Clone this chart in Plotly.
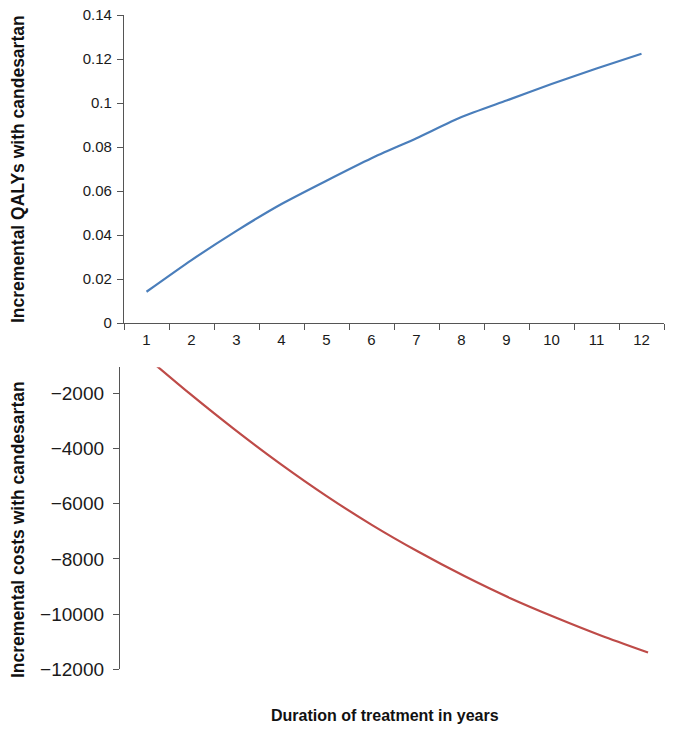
import plotly.graph_objects as go

# ---- data ----
years = ["1", "2", "3", "4", "5", "6", "7", "8", "9", "10", "11", "12"]
qalys = [0.0142, 0.0286, 0.0419, 0.0541, 0.0647, 0.0749, 0.0840, 0.0936, 0.1011, 0.1086, 0.1157, 0.1224]
costs = [-580, -1980, -3310, -4560, -5720, -6780, -7740, -8620, -9420, -10130, -10790, -11390]

qaly_ticks = [0, 0.02, 0.04, 0.06, 0.08, 0.10, 0.12, 0.14]
qaly_ticktext = ["0", "0.02", "0.04", "0.06", "0.08", "0.1", "0.12", "0.14"]
cost_ticks = [-12000, -10000, -8000, -6000, -4000, -2000]
cost_ticktext = ["\u221212000", "\u221210000", "\u22128000", "\u22126000", "\u22124000", "\u22122000"]

# body margin is removed in the page, so the figure fills the window exactly
OX, OY = 0, 0
W, H = 675 - OX, 734 - OY
FONT = "Liberation Sans, Arial, sans-serif"
AXCOL = "#555555"

def px_x(p):
    return (p - OX) / W

def px_y(p):
    return 1 - (p - OY) / H

fig = go.Figure()
fig.add_trace(go.Scatter(x=years, y=qalys, mode="lines",
                         line=dict(color="#4A7EBB", width=2.2, shape="spline", smoothing=0.6),
                         xaxis="x", yaxis="y", showlegend=False))
fig.add_trace(go.Scatter(x=years, y=costs, mode="lines",
                         line=dict(color="#BE4B48", width=2.2, shape="spline", smoothing=0.6),
                         xaxis="x2", yaxis="y2", showlegend=False))

fig.update_layout(
    width=W, height=H, autosize=False,
    margin=dict(l=0, r=0, t=0, b=0, pad=0, autoexpand=False),
    paper_bgcolor="white", plot_bgcolor="white",
    font=dict(family=FONT, color="#1a1a1a"),
    xaxis=dict(domain=[px_x(124), px_x(664)], type="category", anchor="y",
               range=[-0.5, 11.5], automargin=False, ticklabeloverflow="allow",
               showline=True, linecolor=AXCOL, linewidth=1.3,
               ticks="outside", tickson="boundaries", ticklen=6, tickcolor=AXCOL, tickwidth=1.3,
               ticklabelstandoff=3,
               showgrid=False, zeroline=False, tickfont=dict(size=15, family=FONT)),
    yaxis=dict(domain=[px_y(323), px_y(15)], range=[0, 0.14], anchor="x", automargin=False,
               ticklabeloverflow="allow",
               tickmode="array", tickvals=qaly_ticks, ticktext=qaly_ticktext,
               showline=True, linecolor=AXCOL, linewidth=1.3,
               ticks="outside", ticklen=6, tickcolor=AXCOL, tickwidth=1.3,
               ticklabelstandoff=2,
               showgrid=False, zeroline=False, tickfont=dict(size=15, family=FONT)),
    xaxis2=dict(domain=[px_x(120), px_x(671)], type="category", anchor="y2",
                range=[-0.5, 11.5], visible=False, automargin=False),
    yaxis2=dict(domain=[px_y(669.3), px_y(367.3)], range=[-12000, -1050], anchor="x2",
                automargin=False, ticklabeloverflow="allow",
                tickmode="array", tickvals=cost_ticks, ticktext=cost_ticktext,
                showline=True, linecolor=AXCOL, linewidth=1.3,
                ticks="outside", ticklen=6, tickcolor=AXCOL, tickwidth=1.3,
                ticklabelstandoff=5,
                showgrid=False, zeroline=False, tickfont=dict(size=19, family=FONT)),
    annotations=[
        dict(text="<b>Incremental QALYs with candesartan</b>", x=px_x(18), y=px_y(169),
             xref="paper", yref="paper", xanchor="center", yanchor="middle",
             textangle=-90, showarrow=False,
             font=dict(size=17.5, family=FONT, color="#111")),
        dict(text="<b>Incremental costs with candesartan</b>", x=px_x(18), y=px_y(530),
             xref="paper", yref="paper", xanchor="center", yanchor="middle",
             textangle=-90, showarrow=False,
             font=dict(size=17.5, family=FONT, color="#111")),
        dict(text="<b>Duration of treatment in years</b>", x=px_x(384.5), y=px_y(715),
             xref="paper", yref="paper", xanchor="center", yanchor="middle",
             showarrow=False,
             font=dict(size=16, family=FONT, color="#111")),
    ],
)

fig.write_html("out.html", config={"displayModeBar": False},
               post_script="document.body.style.margin='0';document.body.style.overflow='hidden';")
